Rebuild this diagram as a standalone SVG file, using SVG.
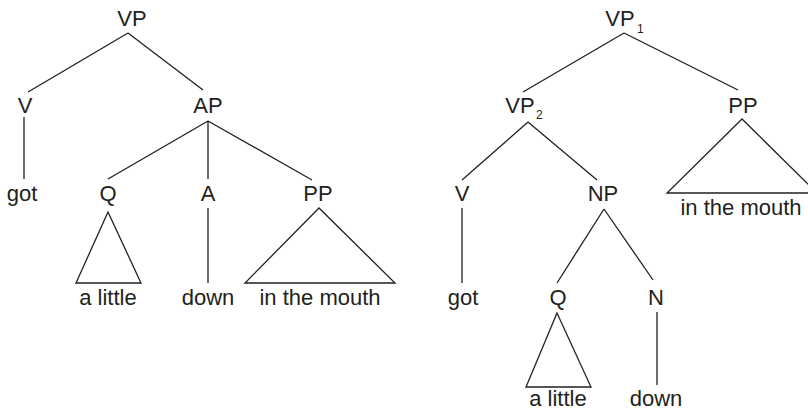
<svg xmlns="http://www.w3.org/2000/svg" width="808" height="410" viewBox="0 0 808 410">
<style>
text{font-family:"Liberation Sans",Arial,sans-serif;font-size:22px;fill:#231f20;text-anchor:middle}
.sub{font-size:12px;text-anchor:start}
.e{stroke:#231f20;stroke-width:1.3;fill:none}
</style>
<rect width="808" height="410" fill="#fff"/>
<g id="connectors" class="e">
<path d="M128 33L28 92M128 33L203 90"/>
<path d="M24 117V179"/>
<path d="M208 121L108 179M208 121V179M208 121L312 180"/>
<path d="M208 208V283"/>
<path d="M624 33L523 92M624 33L738 90"/>
<path d="M528 122L462 180M528 122L597 180"/>
<path d="M462 208V283"/>
<path d="M604 209L557 283M604 209L653 280"/>
<path d="M657 312V385"/>
</g>
<g id="L_VP"><text x="132" y="26">VP</text></g>
<g id="L_V"><text x="25" y="113">V</text></g>
<g id="L_AP"><text x="208" y="113">AP</text></g>
<g id="L_got"><text x="22" y="201">got</text></g>
<g id="L_Q"><text x="108" y="201">Q</text><path class="e" d="M108 212L76 283H141Z"/></g>
<g id="L_A"><text x="208" y="201">A</text></g>
<g id="L_PP"><text x="318" y="201">PP</text><path class="e" d="M319 208L245 283H395Z"/></g>
<g id="L_alittle"><text x="108" y="305">a little</text></g>
<g id="L_down"><text x="208" y="305">down</text></g>
<g id="L_inthemouth"><text x="320" y="305">in the mouth</text></g>
<g id="R_VP1"><text x="620" y="26">VP</text><text class="sub" x="637" y="33">1</text></g>
<g id="R_VP2"><text x="520" y="113">VP</text><text class="sub" x="536" y="119">2</text></g>
<g id="R_PP"><text x="743" y="113">PP</text><path class="e" d="M742 119L667 193H817Z"/></g>
<g id="R_inthemouth"><text x="741" y="215">in the mouth</text></g>
<g id="R_V"><text x="462" y="201">V</text></g>
<g id="R_NP"><text x="603" y="201">NP</text></g>
<g id="R_got"><text x="463" y="305">got</text></g>
<g id="R_Q"><text x="558" y="305">Q</text><path class="e" d="M557 313L526 387H591Z"/></g>
<g id="R_N"><text x="656" y="305">N</text></g>
<g id="R_alittle"><text x="558" y="406">a little</text></g>
<g id="R_down"><text x="656" y="406">down</text></g>
</svg>
